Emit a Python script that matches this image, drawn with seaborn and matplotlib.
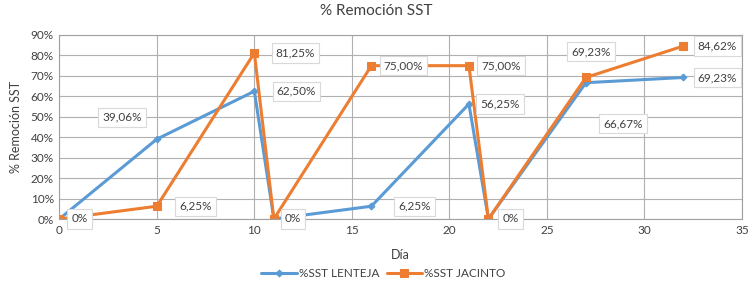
import pandas as pd
import matplotlib
matplotlib.use("Agg")
import matplotlib.pyplot as plt
import seaborn as sns

# Datos
dias = [0, 5, 10, 11, 16, 21, 22, 27, 32]
sst_lenteja = [0, 39.06, 62.50, 0, 6.25, 56.25, 0, 66.67, 69.23]
sst_jacinto = [0, 6.25, 81.25, 0, 75.00, 75.00, 0, 69.23, 84.62]

# Desplazamiento (px) de cada etiqueta respecto a su punto
off_lenteja = [None, (-35, 22), (42, 0), None, (43, 0), (31, 0), None, (37, -41), (34, 0)]
off_jacinto = [(20, 0), (39, 0), (41, 0), (19, 0), (32, 0), (32, 0), (22, 0), (5, 26), (34, 0)]

azul = "#5B9BD5"
naranja = "#ED7D31"

sns.set_style("white")
plt.rcParams['font.family'] = ['Lato', 'DejaVu Sans']

df = pd.DataFrame({"Día": dias, "lenteja": sst_lenteja, "jacinto": sst_jacinto})

fig = plt.figure(figsize=(7.52, 2.82), dpi=100)
ax = fig.add_axes([59.3 / 752, 1 - 219 / 282, (742 - 59.3) / 752, (219 - 35) / 282])

sns.lineplot(data=df, x="Día", y="lenteja", ax=ax, color=azul, lw=2.2,
             marker="D", markersize=3.5, markeredgecolor=azul, label="%SST LENTEJA")
sns.lineplot(data=df, x="Día", y="jacinto", ax=ax, color=naranja, lw=2.2,
             marker="s", markersize=5.5, markeredgecolor=naranja, label="%SST JACINTO")

def etiquetar(valores, offsets):
    for x, v, off in zip(dias, valores, offsets):
        if off is None:
            continue
        txt = "0%" if v == 0 else f"{v:.2f}%".replace(".", ",")
        ax.annotate(txt, (x, v), xytext=off, textcoords="offset pixels",
                    ha="center", va="center", fontsize=8.5, color="#404040",
                    bbox=dict(boxstyle="square,pad=0.35", fc="white", ec="#D9D9D9", lw=0.8))

etiquetar(sst_lenteja, off_lenteja)
etiquetar(sst_jacinto, off_jacinto)

ax.set_xlim(0, 35)
ax.set_ylim(0, 90)
ax.set_xticks(range(0, 36, 5))
ax.set_yticks(range(0, 91, 10))
ax.set_yticklabels([f"{t}%" for t in range(0, 91, 10)])
ax.tick_params(labelsize=8.5, colors="#404040", length=0, pad=4)
ax.grid(True, color="#B0B0B0", lw=0.8)
ax.set_axisbelow(True)
for s in ax.spines.values():
    s.set_color("#A0A0A0")
    s.set_linewidth(0.8)

ax.set_xlabel("Día", fontsize=9, color="#404040", labelpad=10)
ax.set_ylabel("% Remoción SST", fontsize=9, color="#404040", labelpad=6)
fig.suptitle("% Remoción SST", x=0.5, y=0.985, fontsize=11, color="#404040")

handles, labels = ax.get_legend_handles_labels()
ax.get_legend().remove()
fig.legend(handles, labels, loc="center", bbox_to_anchor=(0.51, 0.03), ncol=2, frameon=False,
           fontsize=8.5, handlelength=3, columnspacing=0.6, handletextpad=0.2,
           labelcolor="#404040")

fig.savefig("out.png", dpi=100)
